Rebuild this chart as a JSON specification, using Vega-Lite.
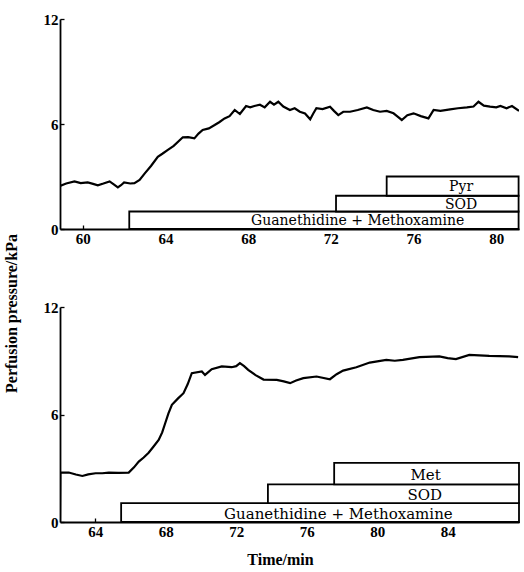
{
  "$schema": "https://vega.github.io/schema/vega-lite/v6.json",
  "background": "white",
  "padding": {"left": 3, "top": 12, "right": 3, "bottom": 5},
  "spacing": 78,
  "bounds": "flush",
  "config": {
    "view": {"stroke": null},
    "font": "Liberation Serif",
    "axis": {
      "grid": false,
      "domainColor": "black",
      "domainWidth": 1.8,
      "tickColor": "black",
      "tickSize": -4,
      "tickWidth": 1.3,
      "labelPadding": 6,
      "labelFont": "Liberation Serif",
      "labelFontSize": 15,
      "labelFontWeight": "bold",
      "labelColor": "black",
      "titleFont": "Liberation Serif",
      "titleFontSize": 16,
      "titleFontWeight": "bold",
      "titleColor": "black"
    }
  },
  "datasets": {
    "top": [
      {"t": 58.9, "p": 2.46}, {"t": 59.2, "p": 2.6}, {"t": 59.6, "p": 2.72}, {"t": 59.9, "p": 2.62},
      {"t": 60.24, "p": 2.66}, {"t": 60.5, "p": 2.58}, {"t": 60.73, "p": 2.5}, {"t": 61.0, "p": 2.6},
      {"t": 61.3, "p": 2.72}, {"t": 61.5, "p": 2.55}, {"t": 61.7, "p": 2.38}, {"t": 61.85, "p": 2.5},
      {"t": 62.0, "p": 2.66}, {"t": 62.3, "p": 2.6}, {"t": 62.5, "p": 2.62}, {"t": 62.75, "p": 2.8},
      {"t": 63.0, "p": 3.18}, {"t": 63.3, "p": 3.6}, {"t": 63.63, "p": 4.13}, {"t": 63.85, "p": 4.3},
      {"t": 64.1, "p": 4.51}, {"t": 64.4, "p": 4.75}, {"t": 64.84, "p": 5.24}, {"t": 65.1, "p": 5.25},
      {"t": 65.4, "p": 5.18}, {"t": 65.6, "p": 5.45}, {"t": 65.8, "p": 5.66}, {"t": 66.1, "p": 5.75},
      {"t": 66.38, "p": 5.94}, {"t": 66.6, "p": 6.1}, {"t": 66.86, "p": 6.32}, {"t": 67.1, "p": 6.45},
      {"t": 67.35, "p": 6.8}, {"t": 67.6, "p": 6.57}, {"t": 67.9, "p": 7.03}, {"t": 68.1, "p": 6.95},
      {"t": 68.3, "p": 7.03}, {"t": 68.57, "p": 7.1}, {"t": 68.8, "p": 6.95}, {"t": 69.06, "p": 7.27},
      {"t": 69.25, "p": 7.1}, {"t": 69.46, "p": 7.27}, {"t": 69.7, "p": 7.0}, {"t": 70.02, "p": 6.8},
      {"t": 70.25, "p": 6.9}, {"t": 70.5, "p": 6.7}, {"t": 70.75, "p": 6.6}, {"t": 71.0, "p": 6.27},
      {"t": 71.15, "p": 6.6}, {"t": 71.3, "p": 6.9}, {"t": 71.6, "p": 6.85}, {"t": 71.96, "p": 6.99},
      {"t": 72.15, "p": 6.75}, {"t": 72.36, "p": 6.51}, {"t": 72.6, "p": 6.7}, {"t": 72.93, "p": 6.7},
      {"t": 73.3, "p": 6.8}, {"t": 73.74, "p": 6.95}, {"t": 74.05, "p": 6.8}, {"t": 74.38, "p": 6.7},
      {"t": 74.7, "p": 6.75}, {"t": 75.03, "p": 6.61}, {"t": 75.2, "p": 6.45}, {"t": 75.43, "p": 6.23},
      {"t": 75.7, "p": 6.5}, {"t": 76.0, "p": 6.61}, {"t": 76.35, "p": 6.45}, {"t": 76.72, "p": 6.32},
      {"t": 76.97, "p": 6.8}, {"t": 77.3, "p": 6.75}, {"t": 77.77, "p": 6.84}, {"t": 78.15, "p": 6.9},
      {"t": 78.58, "p": 6.95}, {"t": 78.9, "p": 7.0}, {"t": 79.14, "p": 7.27}, {"t": 79.4, "p": 7.05},
      {"t": 79.7, "p": 6.99}, {"t": 80.0, "p": 6.95}, {"t": 80.2, "p": 7.03}, {"t": 80.5, "p": 6.9},
      {"t": 80.76, "p": 7.03}, {"t": 81.1, "p": 6.75}
    ],
    "topBoxes": [
      {"drug": "Guanethidine + Methoxamine", "start": 62.25, "end": 81.08, "y0": 0, "y1": 1.0, "labelAt": 73.3},
      {"drug": "SOD", "start": 72.25, "end": 81.08, "y0": 1.0, "y1": 1.9, "labelAt": 78.3},
      {"drug": "Pyr", "start": 74.7, "end": 81.08, "y0": 1.9, "y1": 3.0, "labelAt": 78.3}
    ],
    "bottom": [
      {"t": 62.0, "p": 0}, {"t": 62.02, "p": 2.76}, {"t": 62.5, "p": 2.76}, {"t": 62.9, "p": 2.65},
      {"t": 63.27, "p": 2.57}, {"t": 63.6, "p": 2.66}, {"t": 64.02, "p": 2.72}, {"t": 64.4, "p": 2.72},
      {"t": 64.77, "p": 2.76}, {"t": 65.3, "p": 2.74}, {"t": 65.9, "p": 2.76}, {"t": 66.2, "p": 3.05},
      {"t": 66.47, "p": 3.37}, {"t": 66.75, "p": 3.6}, {"t": 67.03, "p": 3.87}, {"t": 67.3, "p": 4.2},
      {"t": 67.6, "p": 4.58}, {"t": 67.8, "p": 5.0}, {"t": 67.97, "p": 5.51}, {"t": 68.15, "p": 6.05},
      {"t": 68.35, "p": 6.54}, {"t": 68.7, "p": 6.9}, {"t": 69.01, "p": 7.19}, {"t": 69.25, "p": 7.7},
      {"t": 69.48, "p": 8.31}, {"t": 70.05, "p": 8.4}, {"t": 70.23, "p": 8.21}, {"t": 70.61, "p": 8.53},
      {"t": 71.18, "p": 8.68}, {"t": 71.74, "p": 8.64}, {"t": 72.0, "p": 8.7}, {"t": 72.21, "p": 8.87},
      {"t": 72.45, "p": 8.7}, {"t": 72.68, "p": 8.49}, {"t": 73.1, "p": 8.2}, {"t": 73.55, "p": 7.95},
      {"t": 74.3, "p": 7.93}, {"t": 74.7, "p": 7.85}, {"t": 75.06, "p": 7.75}, {"t": 75.4, "p": 7.9},
      {"t": 75.81, "p": 8.03}, {"t": 76.56, "p": 8.12}, {"t": 77.32, "p": 7.97}, {"t": 77.7, "p": 8.25},
      {"t": 78.07, "p": 8.45}, {"t": 78.82, "p": 8.64}, {"t": 79.58, "p": 8.9}, {"t": 80.52, "p": 9.05},
      {"t": 81.0, "p": 9.0}, {"t": 81.46, "p": 9.05}, {"t": 82.4, "p": 9.2}, {"t": 83.53, "p": 9.24},
      {"t": 84.0, "p": 9.15}, {"t": 84.47, "p": 9.09}, {"t": 85.23, "p": 9.33}, {"t": 86.36, "p": 9.27},
      {"t": 87.49, "p": 9.24}, {"t": 88.0, "p": 9.2}
    ],
    "bottomBoxes": [
      {"drug": "Guanethidine + Methoxamine", "start": 65.47, "end": 88.05, "y0": 0, "y1": 1.05, "labelAt": 77.8},
      {"drug": "SOD", "start": 73.8, "end": 88.05, "y0": 1.05, "y1": 2.1, "labelAt": 82.7},
      {"drug": "Met", "start": 77.56, "end": 88.05, "y0": 2.1, "y1": 3.3, "labelAt": 82.75}
    ]
  },
  "vconcat": [
    {
      "width": 459,
      "height": 210,
      "layer": [
        {
          "data": {"name": "top"},
          "mark": {"type": "line", "color": "black", "strokeWidth": 2.2, "clip": true},
          "encoding": {
            "x": {"field": "t", "type": "quantitative",
              "scale": {"domain": [58.9, 81.1], "nice": false, "zero": false},
              "axis": {"values": [60, 64, 68, 72, 76, 80], "title": null}},
            "y": {"field": "p", "type": "quantitative",
              "scale": {"domain": [0, 12], "nice": false},
              "axis": {"values": [0, 6, 12], "title": "Perfusion pressure/kPa",
                "titleX": -49, "titleY": 294, "titleAngle": -90, "titleAlign": "center", "titleBaseline": "middle"}}
          }
        },
        {
          "data": {"name": "topBoxes"},
          "mark": {"type": "rect", "fill": "white", "stroke": "black", "strokeWidth": 1.8},
          "encoding": {
            "x": {"field": "start", "type": "quantitative"},
            "x2": {"field": "end"},
            "y": {"field": "y0", "type": "quantitative"},
            "y2": {"field": "y1"}
          }
        },
        {
          "data": {"name": "topBoxes"},
          "transform": [{"calculate": "(datum.y0 + datum.y1) / 2", "as": "ymid"}],
          "mark": {"type": "text", "font": "DejaVu Serif", "fontSize": 14, "color": "black", "baseline": "middle", "dy": 1},
          "encoding": {
            "x": {"field": "labelAt", "type": "quantitative"},
            "y": {"field": "ymid", "type": "quantitative"},
            "text": {"field": "drug"}
          }
        }
      ]
    },
    {
      "width": 459,
      "height": 215,
      "layer": [
        {
          "data": {"name": "bottom"},
          "mark": {"type": "line", "color": "black", "strokeWidth": 2.2, "clip": true},
          "encoding": {
            "x": {"field": "t", "type": "quantitative",
              "scale": {"domain": [62, 88.05], "nice": false, "zero": false},
              "axis": {"values": [64, 68, 72, 76, 80, 84], "title": "Time/min", "titleX": 220, "titlePadding": 12}},
            "y": {"field": "p", "type": "quantitative",
              "scale": {"domain": [0, 12], "nice": false},
              "axis": {"values": [0, 6, 12], "title": null}}
          }
        },
        {
          "data": {"name": "bottomBoxes"},
          "mark": {"type": "rect", "fill": "white", "stroke": "black", "strokeWidth": 1.8},
          "encoding": {
            "x": {"field": "start", "type": "quantitative"},
            "x2": {"field": "end"},
            "y": {"field": "y0", "type": "quantitative"},
            "y2": {"field": "y1"}
          }
        },
        {
          "data": {"name": "bottomBoxes"},
          "transform": [{"calculate": "(datum.y0 + datum.y1) / 2", "as": "ymid"}],
          "mark": {"type": "text", "font": "DejaVu Serif", "fontSize": 15, "color": "black", "baseline": "middle", "dy": 1},
          "encoding": {
            "x": {"field": "labelAt", "type": "quantitative"},
            "y": {"field": "ymid", "type": "quantitative"},
            "text": {"field": "drug"}
          }
        }
      ]
    }
  ]
}
